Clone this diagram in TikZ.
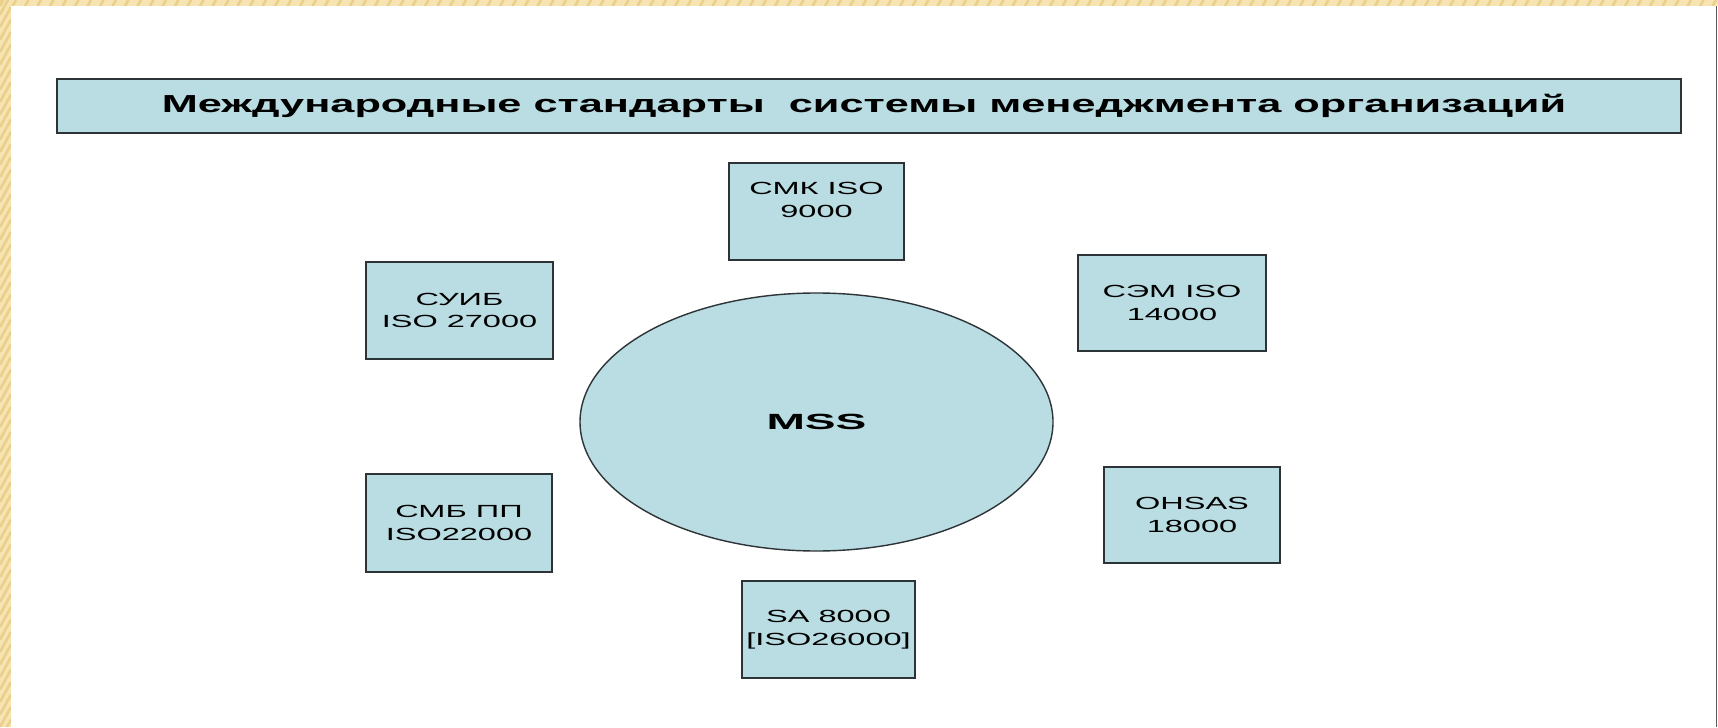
\documentclass[tikz,border=0pt]{standalone}
\usepackage{fontspec}
\setmainfont{Liberation Sans}
\usepackage{graphicx}
\usetikzlibrary{positioning,shapes.geometric}

\definecolor{boxfill}{RGB}{185,221,226}
\definecolor{boxline}{RGB}{45,52,55}
\definecolor{frameyel}{RGB}{246,229,178}
\definecolor{frameband}{RGB}{234,208,140}
\newcommand{\stretchtxt}[1]{\scalebox{1.85}[1]{#1}}

\tikzset{
	stdbox/.style={draw=boxline, fill=boxfill, line width=1.1pt, rectangle, inner sep=0pt,
		align=center, font=\fontsize{10}{13}\selectfont},
	titlebox/.style={draw=boxline, fill=boxfill, line width=1.6pt, rectangle, inner sep=0pt,
		minimum width=32.48cm, minimum height=1.08cm, font=\bfseries\fontsize{14}{16}\selectfont},
	mssshape/.style={draw=boxline, fill=boxfill, line width=0.8pt, ellipse, inner sep=0pt,
		minimum width=9.46cm, minimum height=5.16cm, font=\bfseries\fontsize{12.5}{14}\selectfont}
}

\begin{document}
\begin{tikzpicture}
		\useasboundingbox (0,0) rectangle (34.36,14.54);
		\fill[white] (0,0) rectangle (34.36,14.54);
		% yellow frame of the slide
		\fill[frameyel] (0,0) rectangle (0.22,14.54);
		\fill[frameyel] (0,14.42) rectangle (34.36,14.54);
		\begin{scope}
			\clip (0,0) rectangle (0.22,14.54) (0,14.42) rectangle (34.36,14.54);
			\foreach \y in {-0.5,-0.25,...,14.6}
			\draw [frameband, line width=1.5pt] (0,\y)--(0.22,\y+0.4);
			\foreach \x in {0,0.25,...,34.4}
			\draw [frameband, line width=1.5pt] (\x,14.42)--(\x+0.07,14.54);
		\end{scope}
		\draw [black!65, line width=1.1pt] (34.33,0)--(34.33,14.42);
		
		\node (title) at (17.38,12.42) [titlebox]
			{\hspace*{-0.2cm}\scalebox{1.76}[1]{Международные стандарты\ \ системы менеджмента организаций}};
		\node (mss) at (16.33,6.10) [mssshape] {\scalebox{2.1}[1]{MSS}};
		
		\node (iso9000) at (16.33,10.31) [stdbox, minimum width=3.5cm, minimum height=1.94cm]
			{\stretchtxt{СМК ISO}\\\stretchtxt{9000}\\~};
		\node (iso27000) at (9.19,8.33) [stdbox, minimum width=3.74cm, minimum height=1.94cm]
			{\stretchtxt{СУИБ}\\\stretchtxt{ISO 27000}};
		\node (iso14000) at (23.44,8.48) [stdbox, minimum width=3.76cm, minimum height=1.92cm]
			{\stretchtxt{СЭМ ISO}\\\stretchtxt{14000}};
		\node (iso22000) at (9.18,4.08) [stdbox, minimum width=3.72cm, minimum height=1.96cm]
			{\stretchtxt{СМБ ПП}\\\stretchtxt{ISO22000}};
		\node (ohsas) at (23.84,4.24) [stdbox, minimum width=3.52cm, minimum height=1.92cm]
			{\stretchtxt{OHSAS}\\\stretchtxt{18000}};
		\node (sa8000) at (16.57,1.95) [stdbox, minimum width=3.46cm, minimum height=1.94cm]
			{\stretchtxt{SA 8000}\\\stretchtxt{[ISO26000]}};
		
	\end{tikzpicture}
\end{document}
